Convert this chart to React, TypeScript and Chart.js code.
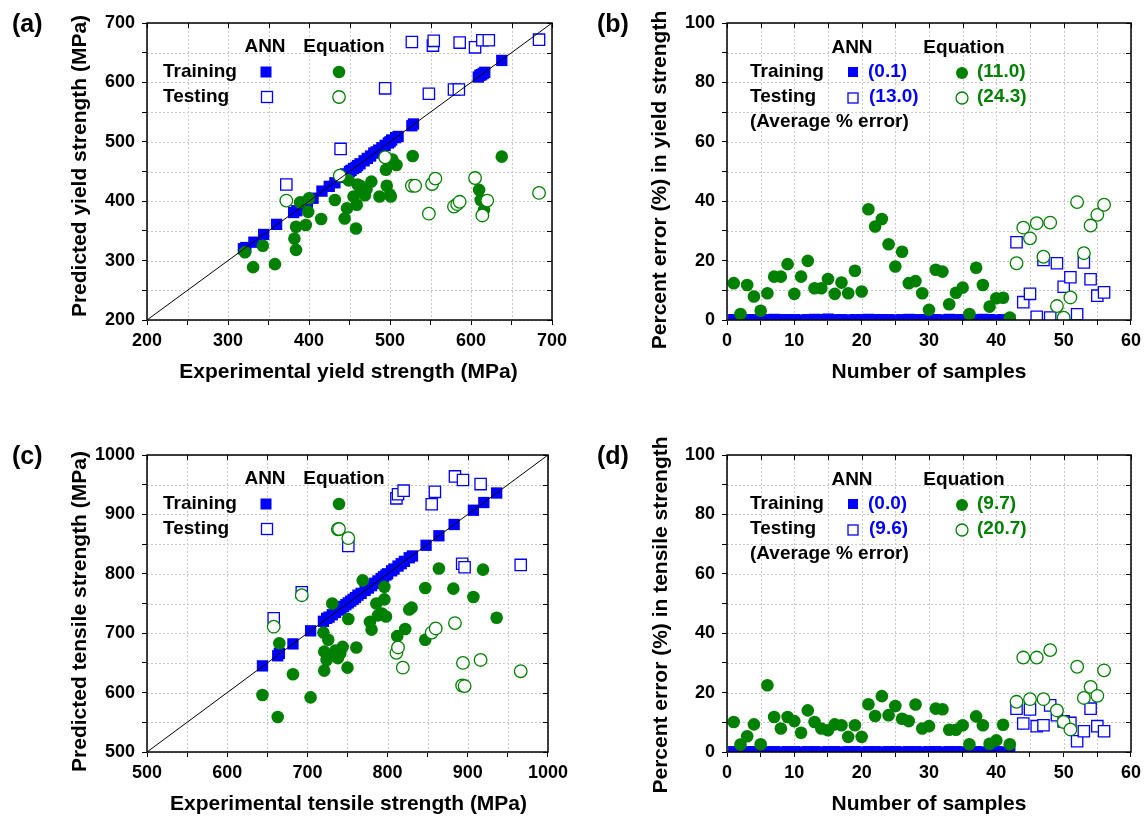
import React, { useEffect, useRef } from "react";
import { Chart, registerables } from "chart.js";

Chart.register(...registerables);

const FONT = "'Liberation Sans', Arial, Helvetica, sans-serif";
const BLUE = "#0000ff";
const GREEN = "#008000";

// ---------------- (a) yield strength: predicted vs experimental ----------------
const yieldAnnTrainExp = [319, 322, 332, 344, 360, 381, 385, 390, 398, 405, 416, 425, 432, 440, 445, 450, 452, 455, 458, 460, 463, 468, 472, 476, 480, 483, 486, 490, 494, 498, 500, 502, 507, 510, 527, 529, 609, 611, 613, 615, 617, 638];
const yieldAnnTrainPred = [320, 322, 331, 344, 361, 381, 384, 390, 398, 405, 417, 425, 431, 440, 446, 450, 452, 455, 457, 460, 463, 468, 472, 476, 481, 483, 486, 490, 494, 498, 500, 503, 507, 509, 527, 530, 609, 612, 613, 615, 617, 637];
const yieldAnnTestExp = [372, 439, 494, 527, 548, 553, 554, 579, 585, 586, 605, 614, 622, 684];
const yieldAnnTestPred = [428, 488, 590, 668, 581, 662, 670, 588, 588, 667, 659, 671, 671, 672];
const yieldEqTrainExp = [321, 331, 343, 358, 382, 384, 384, 389, 396, 399, 400, 415, 432, 444, 447, 449, 455, 458, 459, 460, 463, 464, 469, 471, 477, 487, 495, 496, 500, 501, 503, 508, 528, 610, 612, 616, 638];
const yieldEqTrainPred = [314, 289, 325, 294, 337, 318, 357, 398, 360, 382, 405, 370, 402, 371, 388, 435, 408, 354, 394, 428, 426, 419, 410, 420, 433, 408, 453, 426, 411, 408, 470, 461, 476, 419, 402, 385, 475];
const yieldEqTestExp = [372, 438, 494, 527, 531, 548, 552, 556, 579, 583, 586, 605, 614, 620, 684];
const yieldEqTestPred = [401, 443, 474, 426, 426, 379, 429, 438, 391, 395, 399, 439, 376, 401, 414];
const yieldDiagonal = [200, 700];

// ---------------- (b) percent error in yield strength ----------------
const trainSamples = [1, 2, 3, 4, 5, 6, 7, 8, 9, 10, 11, 12, 13, 14, 15, 16, 17, 18, 19, 20, 21, 22, 23, 24, 25, 26, 27, 28, 29, 30, 31, 32, 33, 34, 35, 36, 37, 38, 39, 40, 41, 42];
const testSamples = [43, 44, 45, 46, 47, 48, 49, 50, 51, 52, 53, 54, 55, 56];
const yieldAnnTrainErr = [0.1, 0.2, 0.1, 0.1, 0.0, 0.1, 0.2, 0.1, 0.1, 0.1, 0.0, 0.1, 0.2, 0.1, 0.3, 0.1, 0.1, 0.0, 0.1, 0.1, 0.2, 0.1, 0.1, 0.1, 0.0, 0.1, 0.2, 0.1, 0.1, 0.1, 0.1, 0.0, 0.2, 0.1, 0.1, 0.1, 0.1, 0.2, 0.1, 0.0, 0.1, 0.1];
const yieldEqTrainErr = [12.4, 2.0, 11.8, 7.9, 3.1, 9.0, 14.6, 14.6, 18.8, 8.8, 14.6, 19.9, 10.7, 10.7, 13.8, 8.8, 12.6, 9.0, 16.6, 9.6, 37.3, 31.5, 34.0, 25.5, 18.0, 23.0, 12.4, 13.1, 9.0, 3.4, 16.9, 16.3, 5.3, 9.2, 10.9, 2.0, 17.6, 11.8, 4.5, 7.3, 7.5, 0.8];
const yieldAnnTestErr = [26.2, 6.0, 8.8, 1.1, 20.2, 0.8, 19.1, 11.2, 14.4, 1.9, 19.4, 13.7, 8.2, 9.3];
const yieldEqTestErr = [19.1, 31.1, 27.5, 32.6, 21.3, 32.8, 4.7, 0.8, 7.6, 39.7, 22.5, 31.8, 35.4, 38.8];

// ---------------- (c) tensile strength: predicted vs experimental ----------------
const tensAnnTrainExp = [644, 663, 665, 682, 704, 720, 724, 727, 731, 735, 739, 742, 745, 748, 751, 754, 757, 760, 763, 767, 772, 776, 780, 784, 788, 792, 795, 798, 800, 805, 808, 813, 817, 821, 827, 831, 848, 864, 883, 907, 920, 936];
const tensAnnTrainPred = [645, 662, 666, 682, 704, 720, 725, 727, 731, 735, 739, 742, 745, 748, 751, 754, 757, 760, 764, 767, 772, 776, 780, 784, 788, 792, 795, 798, 800, 805, 808, 813, 817, 821, 827, 830, 848, 864, 883, 907, 920, 936];
const tensAnnTestExp = [658, 693, 751, 811, 813, 820, 855, 859, 884, 894, 893, 896, 916, 966];
const tensAnnTestPred = [725, 769, 847, 927, 934, 940, 917, 938, 964, 958, 817, 811, 951, 815];
const tensEqTrainExp = [644, 663, 665, 682, 704, 720, 721, 721, 724, 726, 728, 731, 735, 738, 741, 744, 750, 751, 761, 769, 778, 780, 786, 788, 793, 796, 796, 798, 812, 822, 827, 830, 847, 847, 864, 882, 907, 919, 936];
const tensEqTrainPred = [596, 559, 683, 631, 592, 701, 669, 637, 655, 689, 663, 750, 671, 658, 666, 677, 642, 724, 676, 789, 719, 706, 750, 730, 733, 778, 757, 728, 695, 707, 740, 743, 776, 689, 809, 775, 761, 807, 726];
const tensEqTestExp = [658, 693, 738, 751, 811, 813, 819, 855, 860, 884, 894, 893, 896, 916, 966];
const tensEqTestPred = [711, 764, 875, 860, 667, 676, 642, 701, 708, 717, 650, 612, 611, 655, 636];
const tensDiagonal = [500, 1000];

// ---------------- (d) percent error in tensile strength ----------------
const tensAnnTrainErr = [0.1, 0.0, 0.1, 0.1, 0.0, 0.1, 0.1, 0.0, 0.1, 0.1, 0.0, 0.1, 0.1, 0.0, 0.1, 0.1, 0.0, 0.1, 0.1, 0.0, 0.1, 0.1, 0.0, 0.1, 0.1, 0.0, 0.1, 0.1, 0.0, 0.1, 0.1, 0.0, 0.1, 0.1, 0.0, 0.1, 0.1, 0.0, 0.1, 0.1, 0.0, 0.1];
const tensEqTrainErr = [10.1, 2.5, 5.3, 9.3, 2.6, 22.5, 11.8, 7.9, 11.8, 10.4, 6.5, 14.0, 10.1, 7.9, 7.3, 9.3, 9.0, 5.1, 9.0, 5.1, 16.1, 12.1, 18.8, 12.4, 15.5, 11.2, 10.4, 16.0, 7.9, 8.7, 14.6, 14.4, 7.5, 7.5, 9.0, 2.6, 12.0, 9.0, 2.8, 3.9, 9.2, 2.6];
const tensAnnTestErr = [14.6, 9.6, 14.3, 8.7, 9.0, 15.7, 12.4, 10.3, 9.8, 3.6, 7.0, 14.6, 8.7, 7.0];
const tensEqTestErr = [16.9, 31.8, 17.8, 31.8, 17.8, 34.3, 14.0, 10.1, 7.6, 28.7, 18.2, 21.9, 18.9, 27.5];

// legend average errors
const yieldAvgErr = ["(0.1)", "(13.0)", "(11.0)", "(24.3)"];
const tensAvgErr = ["(0.0)", "(9.6)", "(9.7)", "(20.7)"];

// ---------------------------------------------------------------------------
const pts = (xs: number[], ys: number[]) => xs.map((x, i) => ({ x, y: ys[i] }));

function annTrainDs(xs: number[], ys: number[], clip = false) {
  const ds: any = {
    label: "ANN Training",
    data: pts(xs, ys),
    pointStyle: "rect",
    pointRadius: 8,
    pointBackgroundColor: BLUE,
    pointBorderColor: BLUE,
    pointBorderWidth: 0,
    backgroundColor: BLUE,
    borderColor: BLUE,
    showLine: false,
    order: 4,
  };
  if (clip) ds.clip = 0;
  return ds;
}
function annTestDs(xs: number[], ys: number[]) {
  return {
    label: "ANN Testing",
    data: pts(xs, ys),
    pointStyle: "rect",
    pointRadius: 8,
    pointBackgroundColor: "#ffffff",
    pointBorderColor: BLUE,
    pointBorderWidth: 1.3,
    backgroundColor: "#ffffff",
    borderColor: BLUE,
    showLine: false,
    order: 3,
  };
}
function eqTrainDs(xs: number[], ys: number[]) {
  return {
    label: "Equation Training",
    data: pts(xs, ys),
    pointStyle: "circle",
    pointRadius: 6.3,
    pointBackgroundColor: GREEN,
    pointBorderColor: GREEN,
    pointBorderWidth: 0,
    backgroundColor: GREEN,
    borderColor: GREEN,
    showLine: false,
    order: 2,
  };
}
function eqTestDs(xs: number[], ys: number[]) {
  return {
    label: "Equation Testing",
    data: pts(xs, ys),
    pointStyle: "circle",
    pointRadius: 6.3,
    pointBackgroundColor: "#ffffff",
    pointBorderColor: GREEN,
    pointBorderWidth: 1.3,
    backgroundColor: "#ffffff",
    borderColor: GREEN,
    showLine: false,
    order: 1,
  };
}
function diagDs(ends: number[]) {
  return {
    label: "1:1",
    data: pts(ends, ends),
    showLine: true,
    borderColor: "#000000",
    borderWidth: 1,
    pointRadius: 0,
    order: 0,
  };
}

type TextItem = { text: string; x: number; y: number; color?: string; align?: CanvasTextAlign; size?: number };
type MarkerItem = { kind: "sq" | "osq" | "dot" | "odot"; x: number; y: number; s: number };
type PanelSpec = {
  left: number; top: number; width: number; height: number;
  padRight: number; xAxisH: number;
  xMin: number; xMax: number; xStep: number; xLabelStep: number;
  yMin: number; yMax: number; yStep: number; yLabelStep: number;
  datasets: any[];
  texts: TextItem[];
  markers: MarkerItem[];
  yTitle: { text: string; x: number; y: number };
};

function legendScatter(): { texts: TextItem[]; markers: MarkerItem[] } {
  return {
    texts: [
      { text: "ANN", x: 265, y: 47, align: "center" },
      { text: "Equation", x: 344, y: 47, align: "center" },
      { text: "Training", x: 163, y: 72 },
      { text: "Testing", x: 163, y: 97 },
    ],
    markers: [
      { kind: "sq", x: 266, y: 72, s: 11 },
      { kind: "osq", x: 267, y: 97, s: 11 },
      { kind: "dot", x: 339, y: 72, s: 12.5 },
      { kind: "odot", x: 339, y: 97, s: 12.5 },
    ],
  };
}
function legendError(vals: string[]): { texts: TextItem[]; markers: MarkerItem[] } {
  return {
    texts: [
      { text: "ANN", x: 272, y: 48, align: "center" },
      { text: "Equation", x: 384, y: 48, align: "center" },
      { text: "Training", x: 170, y: 72 },
      { text: "Testing", x: 170, y: 97 },
      { text: "(Average % error)", x: 170, y: 122 },
      { text: vals[0], x: 288, y: 72, color: BLUE },
      { text: vals[1], x: 289, y: 97, color: BLUE },
      { text: vals[2], x: 397, y: 72, color: GREEN },
      { text: vals[3], x: 397, y: 97, color: GREEN },
    ],
    markers: [
      { kind: "sq", x: 273, y: 72, s: 10 },
      { kind: "osq", x: 273, y: 98, s: 10 },
      { kind: "dot", x: 382, y: 73, s: 12 },
      { kind: "odot", x: 382, y: 98, s: 12 },
    ],
  };
}

const legA = legendScatter();
const legB = legendError(yieldAvgErr);
const legC = legendScatter();
const legD = legendError(tensAvgErr);

const panels: PanelSpec[] = [
  {
    left: 0, top: 0, width: 573, height: 400, padRight: 21, xAxisH: 80,
    xMin: 200, xMax: 700, xStep: 50, xLabelStep: 100,
    yMin: 200, yMax: 700, yStep: 50, yLabelStep: 100,
    datasets: [
      diagDs(yieldDiagonal),
      annTrainDs(yieldAnnTrainExp, yieldAnnTrainPred),
      annTestDs(yieldAnnTestExp, yieldAnnTestPred),
      eqTrainDs(yieldEqTrainExp, yieldEqTrainPred),
      eqTestDs(yieldEqTestExp, yieldEqTestPred),
    ],
    texts: [
      { text: "(a)", x: 12, y: 25, size: 25 },
      { text: "Experimental yield strength (MPa)", x: 348.5, y: 372, align: "center", size: 21 },
      ...legA.texts,
    ],
    markers: legA.markers,
    yTitle: { text: "Predicted yield strength (MPa)", x: 80, y: 166 },
  },
  {
    left: 580, top: 0, width: 566, height: 400, padRight: 14, xAxisH: 80,
    xMin: 0, xMax: 60, xStep: 5, xLabelStep: 10,
    yMin: 0, yMax: 100, yStep: 10, yLabelStep: 20,
    datasets: [
      annTrainDs(trainSamples, yieldAnnTrainErr, true),
      annTestDs(testSamples, yieldAnnTestErr),
      eqTrainDs(trainSamples, yieldEqTrainErr),
      eqTestDs(testSamples, yieldEqTestErr),
    ],
    texts: [
      { text: "(b)", x: 17, y: 25, size: 25 },
      { text: "Number of samples", x: 349, y: 372, align: "center", size: 21 },
      ...legB.texts,
    ],
    markers: legB.markers,
    yTitle: { text: "Percent error (%) in yield strength", x: 80, y: 180 },
  },
  {
    left: 0, top: 432, width: 573, height: 384, padRight: 21, xAxisH: 64,
    xMin: 500, xMax: 1000, xStep: 50, xLabelStep: 100,
    yMin: 500, yMax: 1000, yStep: 50, yLabelStep: 100,
    datasets: [
      diagDs(tensDiagonal),
      annTrainDs(tensAnnTrainExp, tensAnnTrainPred),
      annTestDs(tensAnnTestExp, tensAnnTestPred),
      eqTrainDs(tensEqTrainExp, tensEqTrainPred),
      eqTestDs(tensEqTestExp, tensEqTestPred),
    ],
    texts: [
      { text: "(c)", x: 12, y: 25, size: 25 },
      { text: "Experimental tensile strength (MPa)", x: 348.5, y: 372, align: "center", size: 21 },
      ...legC.texts,
    ],
    markers: legC.markers,
    yTitle: { text: "Predicted tensile strength (MPa)", x: 80, y: 179.5 },
  },
  {
    left: 580, top: 432, width: 566, height: 384, padRight: 14, xAxisH: 64,
    xMin: 0, xMax: 60, xStep: 5, xLabelStep: 10,
    yMin: 0, yMax: 100, yStep: 10, yLabelStep: 20,
    datasets: [
      annTrainDs(trainSamples, tensAnnTrainErr, true),
      annTestDs(testSamples, tensAnnTestErr),
      eqTrainDs(trainSamples, tensEqTrainErr),
      eqTestDs(testSamples, tensEqTestErr),
    ],
    texts: [
      { text: "(d)", x: 17, y: 25, size: 25 },
      { text: "Number of samples", x: 349, y: 372, align: "center", size: 21 },
      ...legD.texts,
    ],
    markers: legD.markers,
    yTitle: { text: "Percent error (%) in tensile strength", x: 81, y: 183 },
  },
];

function decorPlugin(spec: PanelSpec) {
  return {
    id: "decor",
    beforeDatasetsDraw(chart: any) {
      const { ctx, chartArea: a, scales } = chart;
      const xs = scales.x, ys = scales.y;
      ctx.save();
      ctx.strokeStyle = "#c8c8c8";
      ctx.lineWidth = 1;
      ctx.setLineDash([2, 2]);
      xs.ticks.forEach((t: any) => {
        const px = Math.round(xs.getPixelForValue(t.value)) + 0.5;
        ctx.beginPath();
        ctx.moveTo(px, a.top);
        ctx.lineTo(px, a.bottom);
        ctx.stroke();
      });
      ys.ticks.forEach((t: any) => {
        const py = Math.round(ys.getPixelForValue(t.value)) + 0.5;
        ctx.beginPath();
        ctx.moveTo(a.left, py);
        ctx.lineTo(a.right, py);
        ctx.stroke();
      });
      ctx.restore();
    },
    afterDraw(chart: any) {
      const { ctx, chartArea: a, scales } = chart;
      const xs = scales.x, ys = scales.y;
      ctx.save();
      // frame
      ctx.setLineDash([]);
      ctx.strokeStyle = "#000";
      ctx.lineWidth = 1.5;
      ctx.strokeRect(a.left, a.top, a.right - a.left, a.bottom - a.top);
      // inward ticks on top and right
      ctx.lineWidth = 1;
      xs.ticks.forEach((t: any) => {
        const px = Math.round(xs.getPixelForValue(t.value)) + 0.5;
        ctx.beginPath();
        ctx.moveTo(px, a.top);
        ctx.lineTo(px, a.top + 5);
        ctx.stroke();
      });
      ys.ticks.forEach((t: any) => {
        const py = Math.round(ys.getPixelForValue(t.value)) + 0.5;
        ctx.beginPath();
        ctx.moveTo(a.right, py);
        ctx.lineTo(a.right - 5, py);
        ctx.stroke();
      });
      // texts
      ctx.textBaseline = "middle";
      spec.texts.forEach((t) => {
        ctx.font = `bold ${t.size || 19}px ${FONT}`;
        ctx.fillStyle = t.color || "#000";
        ctx.textAlign = t.align || "left";
        ctx.fillText(t.text, t.x, t.y);
      });
      // rotated y title
      ctx.save();
      ctx.translate(spec.yTitle.x, spec.yTitle.y);
      ctx.rotate(-Math.PI / 2);
      ctx.font = `bold 21px ${FONT}`;
      ctx.fillStyle = "#000";
      ctx.textAlign = "center";
      ctx.fillText(spec.yTitle.text, 0, 0);
      ctx.restore();
      // legend markers
      spec.markers.forEach((m) => {
        const h = m.s / 2;
        if (m.kind === "sq") {
          ctx.fillStyle = BLUE;
          ctx.fillRect(m.x - h, m.y - h, m.s, m.s);
        } else if (m.kind === "osq") {
          ctx.fillStyle = "#fff";
          ctx.fillRect(m.x - h, m.y - h, m.s, m.s);
          ctx.strokeStyle = BLUE;
          ctx.lineWidth = 1.3;
          ctx.strokeRect(m.x - h, m.y - h, m.s, m.s);
        } else if (m.kind === "dot") {
          ctx.fillStyle = GREEN;
          ctx.beginPath();
          ctx.arc(m.x, m.y, h, 0, Math.PI * 2);
          ctx.fill();
        } else {
          ctx.fillStyle = "#fff";
          ctx.strokeStyle = GREEN;
          ctx.lineWidth = 1.3;
          ctx.beginPath();
          ctx.arc(m.x, m.y, h, 0, Math.PI * 2);
          ctx.fill();
          ctx.stroke();
        }
      });
      ctx.restore();
    },
  };
}

function labelCb(step: number) {
  return (v: any) => {
    const n = Number(v);
    return Math.abs(n / step - Math.round(n / step)) < 1e-6 ? String(Math.round(n)) : "";
  };
}

function Panel({ spec }: { spec: PanelSpec }) {
  const ref = useRef<HTMLCanvasElement>(null);
  useEffect(() => {
    const canvas = ref.current;
    if (!canvas) return;
    const tickFont = { family: FONT, size: 18, weight: "bold" as const };
    const chart = new Chart(canvas, {
      type: "scatter",
      data: { datasets: spec.datasets },
      options: {
        responsive: false,
        animation: false,
        events: [],
        devicePixelRatio: 1,
        layout: { padding: { top: 23, right: spec.padRight, left: 0, bottom: 0 } },
        plugins: {
          legend: { display: false },
          tooltip: { enabled: false },
          title: { display: false },
        },
        scales: {
          x: {
            type: "linear",
            position: "bottom",
            min: spec.xMin,
            max: spec.xMax,
            afterFit: (s: any) => { s.height = spec.xAxisH; },
            ticks: {
              stepSize: spec.xStep,
              autoSkip: false,
              maxRotation: 0,
              padding: 5,
              color: "#000",
              font: tickFont,
              callback: labelCb(spec.xLabelStep),
            },
            grid: { drawOnChartArea: false, drawTicks: true, tickLength: 5, tickColor: "#000", tickWidth: 1 },
            border: { display: false },
          },
          y: {
            type: "linear",
            position: "left",
            min: spec.yMin,
            max: spec.yMax,
            afterFit: (s: any) => { s.width = 147; },
            ticks: {
              stepSize: spec.yStep,
              autoSkip: false,
              padding: 7,
              color: "#000",
              font: tickFont,
              callback: labelCb(spec.yLabelStep),
            },
            grid: { drawOnChartArea: false, drawTicks: true, tickLength: 5, tickColor: "#000", tickWidth: 1 },
            border: { display: false },
          },
        },
      } as any,
      plugins: [decorPlugin(spec)],
    });
    return () => chart.destroy();
  }, [spec]);
  return (
    <canvas
      ref={ref}
      width={spec.width}
      height={spec.height}
      style={{ position: "absolute", left: spec.left, top: spec.top, width: spec.width, height: spec.height }}
    />
  );
}

export default function App() {
  return (
    <div
      style={{
        position: "absolute",
        left: 0,
        top: 0,
        width: 1146,
        height: 816,
        overflow: "hidden",
        background: "#ffffff",
      }}
    >
      {panels.map((p, i) => (
        <Panel key={i} spec={p} />
      ))}
    </div>
  );
}
